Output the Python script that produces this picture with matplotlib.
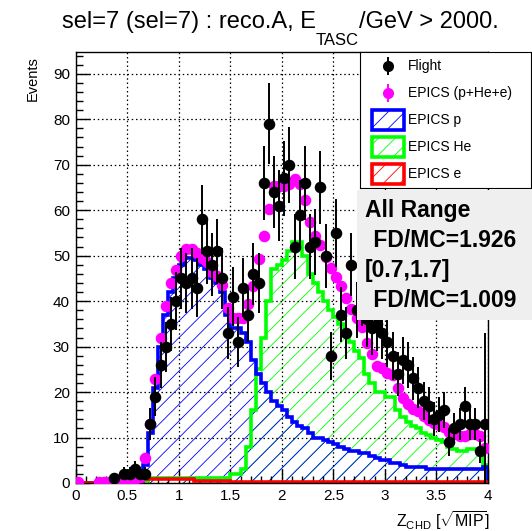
import numpy as np
import matplotlib
matplotlib.use("Agg")
import matplotlib.pyplot as plt
from matplotlib.patches import Rectangle
from matplotlib.ticker import MultipleLocator

plt.rcParams["font.family"] = ["Liberation Sans", "DejaVu Sans"]
plt.rcParams["mathtext.fontset"] = "custom"
plt.rcParams["mathtext.rm"] = "Liberation Sans"
plt.rcParams["mathtext.it"] = "Liberation Sans:italic"
plt.rcParams["mathtext.bf"] = "Liberation Sans:bold"
plt.rcParams["hatch.linewidth"] = 0.6

# Z_CHD binning: 80 bins of width 0.05 on [0, 4]
bin_edges = np.linspace(0.0, 4.0, 81)

flight = [
    0, 0, 0, 0, 0, 0, 0, 1, 0, 2,
    2, 3, 2, 2, 13, 19, 26, 30, 35, 40,
    45, 44, 45, 43, 58, 51, 48, 51, 45, 33,
    41, 31, 43, 37, 46, 44, 66, 79, 64, 61,
    67, 70, 52, 59, 66, 52, 53, 65, 50, 28,
    55, 37, 33, 48, 38, 41, 36, 34, 35, 33,
    31, 28, 24, 27, 26, 23, 21, 18, 17, 14,
    15, 16, 9, 12, 13, 17, 13, 13, 7, 13,
]
flight_err_override = {79: 20.0}

epics_p = [
    0, 0, 0, 0, 0, 0, 0, 0, 0, 0,
    0.2, 0.5, 1, 4, 11, 21, 30, 37, 42, 45,
    48, 49.5, 49.5, 49, 48, 47, 45, 44, 42, 37,
    34, 34, 33, 31, 27, 24, 22, 20, 18, 17,
    16, 14.5, 13.5, 12.5, 12, 11, 10, 10, 9.5, 9,
    8.5, 8, 7.5, 7, 7, 6.5, 6.5, 6, 5.5, 5,
    5, 4.5, 4.5, 4, 3.5, 3.5, 3.5, 3.5, 3, 3,
    3, 3, 3, 3, 3, 3, 3, 3, 3, 3.5,
]
epics_he = [
    0, 0, 0, 0, 0, 0, 0, 0, 0, 0,
    0, 0, 0, 0.5, 1, 1, 1, 1, 1, 1,
    1, 1, 1, 1, 1, 1, 1, 1, 1, 1,
    2, 2, 3, 8, 16, 25, 32, 40, 47, 48,
    49, 51, 53, 53, 50, 46, 44, 42, 40, 38,
    36.5, 35, 33, 31, 29, 27.5, 24, 22, 20, 20,
    19, 19, 16, 14.5, 13.5, 12.5, 12, 11, 10.5, 10,
    9.5, 9, 8, 7.5, 7, 7, 7.5, 7.5, 7, 4,
]
epics_e = [
    0.3, 0, 0, 0, 0.3, 0.3, 0.3, 0.3, 0.3, 0.3,
    0.3, 0.3, 0.3, 0.9, 0.9, 0.9, 0.9, 0.9, 0.9, 0.9,
    0.9, 0.9, 0.9, 0.5, 0.5, 0.5, 0.5, 0.5, 0.5, 0.5,
] + [0.3] * 50

ratio_lines = ["All Range", " FD/MC=1.926", "[0.7,1.7]", " FD/MC=1.009"]

W, H = 532, 531


def fx(px):
    return px / W


def fy(py):
    return 1 - py / H


centers = 0.5 * (bin_edges[:-1] + bin_edges[1:])
flight = np.array(flight, float)
p = np.array(epics_p, float)
he = np.array(epics_he, float)
e = np.array(epics_e, float)
total = p + he + e

GREEN = "#00ff00"

fig = plt.figure(figsize=(W / 100, H / 100), dpi=100)
ax = fig.add_axes([fx(75.5), fy(483), (488 - 75.5) / W, (483 - 52) / H])

# MC components: hatched fill + thick outline
for vals, col in [(he, GREEN), (p, "#0000ff")]:
    ax.stairs(vals, bin_edges, fill=True, facecolor="none", edgecolor=col,
              hatch="//", linewidth=0, zorder=1)
for vals, col in [(he, GREEN), (p, "#0000ff"), (e, "#ff0000")]:
    ax.stairs(vals, bin_edges, color=col, linewidth=2.6, baseline=0, zorder=2)

# EPICS sum
m = total > 0
ax.plot(centers[m], total[m], "o", color="#ff00ff", ms=7.3, mec="#ff00ff", zorder=3)

# flight data with Poisson errors
fm = flight > 0
ferr = np.sqrt(flight)
for i, v in flight_err_override.items():
    ferr[i] = v
ax.errorbar(centers[fm], flight[fm], yerr=ferr[fm], fmt="o", color="black",
            ms=7.3, elinewidth=1.4, capsize=0, zorder=4)

ax.set_xlim(0, 4)
ax.set_ylim(0, 94.8)
ax.xaxis.set_major_locator(MultipleLocator(0.5))
ax.xaxis.set_minor_locator(MultipleLocator(0.1))
ax.yaxis.set_major_locator(MultipleLocator(10))
ax.yaxis.set_minor_locator(MultipleLocator(2))
ax.set_xticks(np.arange(0, 4.01, 0.5))
ax.set_xticklabels(["0", "0.5", "1", "1.5", "2", "2.5", "3", "3.5", "4"])
ax.tick_params(which="both", direction="in", top=False, right=False,
               labelsize=11, width=1)
ax.tick_params(which="major", length=10, pad=4)
ax.tick_params(which="minor", length=5)
ax.grid(True, which="major", color="black", ls=(0, (1.2, 2.2)), lw=0.9)
for s in ax.spines.values():
    s.set_linewidth(1.0)

# title with lowered subscript
t1 = fig.text(fx(62), fy(28), "sel=7 (sel=7) : reco.A, E", fontsize=17,
              ha="left", va="baseline")
t2 = ax.annotate("TASC", xy=(1, 0), xycoords=t1, xytext=(0, 0),
                 textcoords="offset points", fontsize=12, ha="left", va="top",
                 annotation_clip=False)
ax.annotate("/GeV > 2000.", xy=(1, 0), xycoords=(t2, t1), fontsize=17,
            ha="left", va="bottom", annotation_clip=False)

fig.text(fx(490), fy(527), r"Z$_{\rm CHD}$ [$\sqrt{\rm MIP}$]", fontsize=11.5,
         ha="right", va="baseline")
fig.text(fx(33), fy(56), "Events", rotation=90, fontsize=10.5,
         ha="center", va="top")

# legend box
lg = fig.add_axes([fx(360), fy(188), 171 / W, 136 / H])
lg.set_xlim(0, 171)
lg.set_ylim(136, 0)
lg.set_xticks([])
lg.set_yticks([])
for s in lg.spines.values():
    s.set_linewidth(0.8)
rows = [14, 41, 68, 95, 122]
lg.errorbar([28], [rows[0]], yerr=9, fmt="o", color="black", ms=7,
            elinewidth=1.4)
lg.errorbar([28], [rows[1]], yerr=9, fmt="o", color="#ff00ff", ms=7,
            elinewidth=1.4)
for y, col in zip(rows[2:], ["#0000ff", GREEN, "#ff0000"]):
    lg.add_patch(Rectangle((12, y - 10), 32, 20, facecolor="none",
                           edgecolor=col, hatch="//", lw=0))
    lg.add_patch(Rectangle((12, y - 10), 32, 20, facecolor="none",
                           edgecolor=col, lw=2.6))
labels = ["Flight", "EPICS (p+He+e)", "EPICS p", "EPICS He", "EPICS e"]
for y, lab in zip(rows, labels):
    lg.text(48, y, lab, fontsize=10, ha="left", va="center")

# FD/MC ratio panel
fig.add_artist(Rectangle((fx(357), fy(320)), (W - 357) / W, 130 / H,
                         transform=fig.transFigure, facecolor="#efefef",
                         edgecolor="none", zorder=5))
for (x, y), txt in zip([(365, 217), (367, 247), (365, 277), (367, 307)],
                       ratio_lines):
    fig.text(fx(x), fy(y), txt, fontsize=16.5, fontweight="bold",
             ha="left", va="baseline", zorder=6)

fig.savefig("out.png", dpi=100)
